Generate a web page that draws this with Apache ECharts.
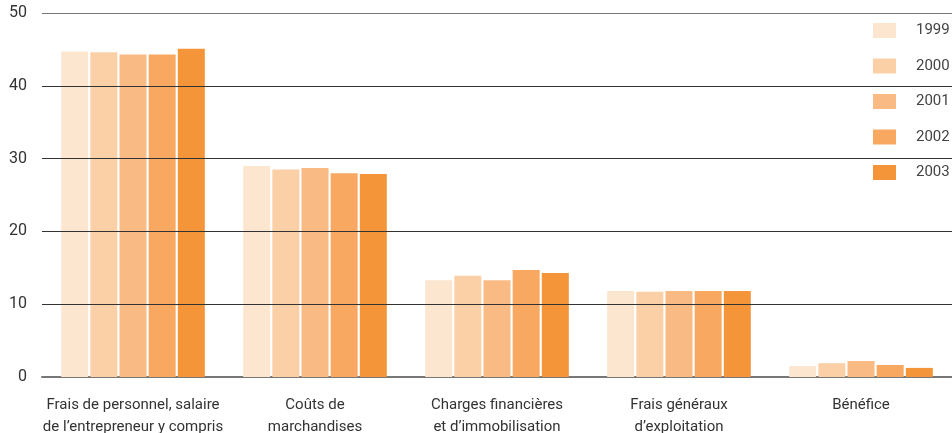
<!DOCTYPE html>
<html>
<head>
<meta charset="utf-8">
<script src="https://cdn.jsdelivr.net/npm/echarts@6/dist/echarts.min.js"></script>
<style>
  html, body { margin: 0; padding: 0; background: #fff; }
  #chart { width: 952px; height: 433px; }
</style>
</head>
<body>
<div id="chart"></div>
<script>
// categories (x axis)
var categories = [
  'Frais de personnel, salaire\nde l\u2019entrepreneur y compris',
  'Co\u00fbts de\nmarchandises',
  'Charges financi\u00e8res\net d\u2019immobilisation',
  'Frais g\u00e9n\u00e9raux\nd\u2019exploitation',
  'B\u00e9n\u00e9fice'
]
var years = ['1999', '2000', '2001', '2002', '2003']

// values in %, one array per year
var v1999 = [44.7, 29.0, 13.3, 11.8, 1.5]
var v2000 = [44.6, 28.5, 13.9, 11.7, 1.9]
var v2001 = [44.3, 28.7, 13.3, 11.8, 2.2]
var v2002 = [44.3, 28.0, 14.7, 11.8, 1.65]
var v2003 = [45.1, 27.9, 14.3, 11.8, 1.25]

var colors = ['#FDE6CF', '#FCD0A6', '#FABA84', '#F8A861', '#F5953A']

var chart = echarts.init(document.getElementById('chart'))
var font = 'Roboto, "Open Sans", sans-serif'

var allValues = [v1999, v2000, v2001, v2002, v2003]
var series = years.map(function (y, i) {
  return {
    name: y,
    type: 'bar',
    data: allValues[i],
    barWidth: 27,
    barGap: '8%',
    itemStyle: { color: colors[i] }
  }
})

chart.setOption({
  animation: false,
  color: colors,
  textStyle: { fontFamily: font },
  grid: { left: 42, right: 0, top: 13, bottom: 56, outerBoundsMode: 'none', containLabel: false },
  legend: {
    orient: 'vertical',
    left: 868,
    top: 18,
    itemWidth: 23,
    itemHeight: 15,
    itemGap: 20.5,
    icon: 'rect',
    textStyle: { fontSize: 15, color: '#444', fontFamily: font, padding: [0, 0, 0, 15] },
    data: years
  },
  xAxis: {
    type: 'category',
    data: categories,
    axisLine: { lineStyle: { color: '#777', width: 2 } },
    axisTick: { show: false },
    axisLabel: {
      fontSize: 15,
      lineHeight: 22,
      color: '#333',
      margin: 17,
      interval: 0
    }
  },
  yAxis: {
    type: 'value',
    min: 0,
    max: 50,
    interval: 10,
    z: 5,
    axisLine: { show: false },
    axisTick: { show: false },
    axisLabel: { fontSize: 16, color: '#333', margin: 15 },
    splitLine: {
      lineStyle: { color: ['#777', '#333', '#333', '#333', '#333', '#777'], width: 1 }
    }
  },
  series: series
})
</script>
</body>
</html>
